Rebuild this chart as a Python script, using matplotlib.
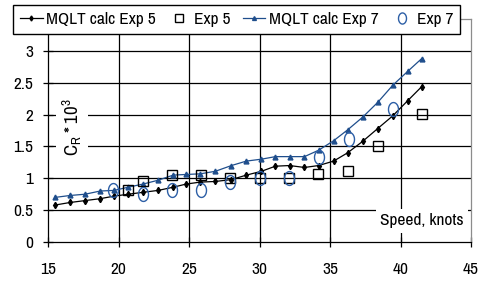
import matplotlib
matplotlib.use("Agg")
import matplotlib.pyplot as plt
from matplotlib.path import Path
import numpy as np

# ---- data ----
calc_speed = [15.5, 16.56, 17.63, 18.70, 19.69, 20.69, 21.75, 22.82, 23.88, 24.81,
              25.80, 26.87, 28.01, 29.07, 30.14, 31.13, 32.13, 33.19, 34.19, 35.26,
              36.25, 37.32, 38.38, 39.45, 40.52, 41.51]
calc_exp5 = [0.58, 0.62, 0.65, 0.68, 0.72, 0.75, 0.78, 0.81, 0.86, 0.91,
             0.94, 0.95, 0.98, 1.05, 1.11, 1.19, 1.20, 1.17, 1.20, 1.27,
             1.40, 1.58, 1.78, 1.98, 2.22, 2.44]
calc_exp7 = [0.70, 0.73, 0.75, 0.80, 0.81, 0.86, 0.91, 0.97, 1.05, 1.06,
             1.07, 1.11, 1.20, 1.27, 1.30, 1.34, 1.34, 1.34, 1.44, 1.59,
             1.76, 1.96, 2.19, 2.46, 2.68, 2.88]
exp5_speed = [20.69, 21.75, 23.81, 25.87, 27.94, 30.0, 32.06, 34.17, 36.25, 38.38, 41.51]
exp5_val = [0.81, 0.96, 1.05, 1.05, 1.01, 1.00, 1.00, 1.06, 1.12, 1.50, 2.01]
exp7_speed = [19.62, 21.75, 23.81, 25.87, 27.94, 30.0, 32.06, 34.19, 36.32, 39.44]
exp7_val = [0.81, 0.76, 0.81, 0.81, 0.94, 1.00, 1.00, 1.33, 1.62, 2.09]

x_ticks = [15, 20, 25, 30, 35, 40, 45]
y_ticks = [0, 0.5, 1, 1.5, 2, 2.5, 3]
y_tick_labels = ["0", "0.5", "1", "1.5", "2", "2.5", "3"]
series_names = ["MQLT calc Exp 5", "Exp 5", "MQLT calc Exp 7", "Exp 7"]

FONT = ["Archivo Narrow", "DejaVu Sans"]
plt.rcParams["font.family"] = FONT
plt.rcParams["mathtext.fontset"] = "custom"
plt.rcParams["mathtext.rm"] = "Archivo Narrow"

BLUE = "#1f4e8c"
CIRC = "#2d5fa6"

fig = plt.figure(figsize=(4.79, 2.81), dpi=100)
ax = fig.add_axes([48 / 479, 1 - 242 / 281, (471 - 48) / 479, (242 - 19) / 281])
ax.set_xlim(15, 45)
ax.set_ylim(0, 3.5)

# gridlines (black) at inner major ticks
for xv in x_ticks[1:-1]:
    ax.axvline(xv, color="black", lw=0.9, zorder=1)
for yv in y_ticks[1:]:
    ax.axhline(yv, color="black", lw=0.9, zorder=1)

# ellipse marker for Exp 7
t = np.linspace(0, 2 * np.pi, 40)
ell = Path(np.column_stack([0.72 * np.cos(t), np.sin(t)]), closed=True)

ax.plot(calc_speed, calc_exp5, color="black", lw=0.9, marker="d", ms=3.2,
        label=series_names[0], zorder=3)
ax.plot(exp5_speed, exp5_val, ls="none", marker="s", ms=7, mfc="none",
        mec="black", mew=1.0, label=series_names[1], zorder=4)
ax.plot(calc_speed, calc_exp7, color=BLUE, lw=0.9, marker="^", ms=3.5,
        label=series_names[2], zorder=3)
ax.plot(exp7_speed, exp7_val, ls="none", marker=ell, ms=10, mfc="none",
        mec=CIRC, mew=1.0, label=series_names[3], zorder=4)

ax.set_xticks(x_ticks)
ax.set_yticks(y_ticks)
ax.set_yticklabels(y_tick_labels)
ax.tick_params(axis="both", direction="inout", length=7, width=0.9,
               labelsize=12.5, colors="black")
ax.tick_params(axis="x", pad=11)
ax.tick_params(axis="y", pad=7)
for s in ["left", "bottom"]:
    ax.spines[s].set_color("black")
    ax.spines[s].set_linewidth(0.9)
for s in ["right", "top"]:
    ax.spines[s].set_color("#8c8c8c")
    ax.spines[s].set_linewidth(0.9)

# axis titles with white backgrounds, placed inside the plot
ax.text(16.7, 1.8, r"$\mathregular{C_R*10^3}$", rotation=90, ha="center",
        va="center", fontsize=13.5, zorder=2,
        bbox=dict(facecolor="white", edgecolor="none", pad=3))
ax.text(41.5, 0.33, "Speed, knots", ha="center", va="center", fontsize=12.5,
        zorder=2, bbox=dict(facecolor="white", edgecolor="none", pad=3))

leg = fig.legend(loc="upper left", bbox_to_anchor=(13 / 479, 1 - 5 / 281),
                 ncol=4, frameon=True, fancybox=False, fontsize=12.5,
                 handlelength=1.3, handletextpad=0.2, columnspacing=0.7,
                 borderpad=0.4, borderaxespad=0, markerscale=0.8)
leg.get_frame().set_edgecolor("black")
leg.get_frame().set_linewidth(1.0)
leg.get_frame().set_facecolor("white")
leg.get_frame().set_alpha(1)
leg.set_zorder(10)

fig.savefig("out.png", dpi=100)
